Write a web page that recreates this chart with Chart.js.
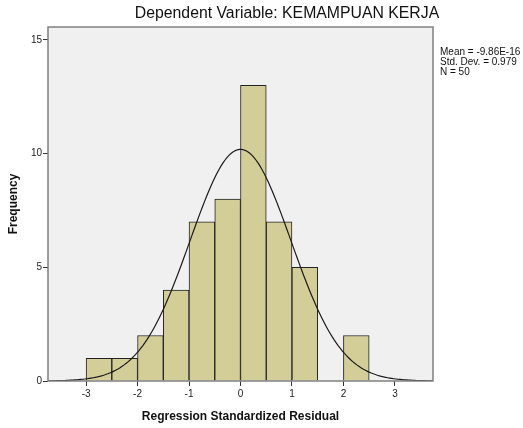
<!DOCTYPE html>
<html>
<head>
<meta charset="utf-8">
<script src="https://cdn.jsdelivr.net/npm/chart.js@4"></script>
<style>
  html, body { margin: 0; padding: 0; background: #fff; }
  #wrap { width: 523px; height: 428px; }
</style>
</head>
<body>
<div id="wrap"><canvas id="histChart" width="523" height="428"></canvas></div>
<script>
// bin centres (bin width 0.5) and frequencies
const binCenters = [-2.75, -2.25, -1.75, -1.25, -0.75, -0.25, 0.25, 0.75, 1.25, 1.75, 2.25];
const frequencies = [1, 1, 2, 4, 7, 8, 13, 7, 5, 0, 2];
const xTicks = [-3, -2, -1, 0, 1, 2, 3];
const yTicks = [0, 5, 10, 15];
const statLines = ['Mean = -9.86E-16', 'Std. Dev. = 0.979', 'N = 50'];
const meanVal = -9.86e-16, sdVal = 0.979, nVal = 50, binWidth = 0.5;

// normal curve from the stats shown in the legend
const curve = [];
for (let x = -3.74; x <= 3.741; x += 0.04) {
  const z = (x - meanVal) / sdVal;
  curve.push({ x: x, y: nVal * binWidth / (sdVal * Math.sqrt(2 * Math.PI)) * Math.exp(-0.5 * z * z) });
}

const fontFam = "Arial, 'Liberation Sans', sans-serif";

const plotFrame = {
  id: 'plotFrame',
  beforeDraw(chart) {
    const { ctx, chartArea: a } = chart;
    ctx.save();
    ctx.fillStyle = '#f0f0f0';
    ctx.fillRect(a.left, a.top, a.right - a.left, a.bottom - a.top);
    ctx.restore();
  },
  afterDraw(chart) {
    const { ctx, chartArea: a } = chart;
    ctx.save();
    ctx.strokeStyle = '#808080';
    ctx.lineWidth = 1.5;
    ctx.strokeRect(a.left, a.top, a.right - a.left, a.bottom - a.top);
    // title
    ctx.fillStyle = '#111';
    ctx.font = '15.8px ' + fontFam;
    ctx.textAlign = 'center';
    ctx.textBaseline = 'middle';
    ctx.fillText('Dependent Variable: KEMAMPUAN KERJA', 287, 14);
    // stats box
    ctx.font = '10px ' + fontFam;
    ctx.textAlign = 'left';
    statLines.forEach((s, i) => ctx.fillText(s, a.right + 7, 52 + i * 10));
    ctx.restore();
  }
};

const config = {
  data: {
    datasets: [{
      type: 'line',
      data: curve,
      borderColor: '#1a1a1a',
      borderWidth: 1.2,
      pointRadius: 0,
      tension: 0,
      order: 0
    }, {
      type: 'bar',
      data: binCenters.map((c, i) => ({ x: c, y: frequencies[i] })),
      backgroundColor: '#d3ce98',
      borderColor: '#222',
      borderWidth: 1,
      barPercentage: 1,
      categoryPercentage: 1,
      order: 1
    }]
  },
  options: {
    responsive: false,
    animation: false,
    layout: { padding: { top: 27, right: 90, left: 0, bottom: 0 } },
    plugins: { legend: { display: false }, tooltip: { enabled: false } },
    scales: {
      x: {
        type: 'linear',
        min: -3.74,
        max: 3.74,
        offset: false,
        afterBuildTicks: s => { s.ticks = xTicks.map(v => ({ value: v })); },
        afterFit: s => { s.height = 47; },
        grid: { offset: false, drawOnChartArea: false, drawTicks: true, tickLength: 5, color: '#333' },
        border: { display: false },
        ticks: { color: '#222', font: { family: fontFam, size: 10 }, padding: 2, maxRotation: 0 },
        title: { display: true, text: 'Regression Standardized Residual', color: '#111',
                 font: { family: fontFam, size: 12, weight: 'bold' }, padding: { top: 6 } }
      },
      y: {
        min: 0,
        max: 15.57,
        afterBuildTicks: s => { s.ticks = yTicks.map(v => ({ value: v })); },
        afterFit: s => { s.width = 48; },
        grid: { drawOnChartArea: false, drawTicks: true, tickLength: 5, color: '#333' },
        border: { display: false },
        ticks: { color: '#222', font: { family: fontFam, size: 10 }, padding: 1 },
        title: { display: true, text: 'Frequency', color: '#111',
                 font: { family: fontFam, size: 12, weight: 'bold' }, padding: { top: 6, bottom: 0 } }
      }
    }
  },
  plugins: [plotFrame]
};

let histChart = new Chart(document.getElementById('histChart'), config);
</script>
</body>
</html>
